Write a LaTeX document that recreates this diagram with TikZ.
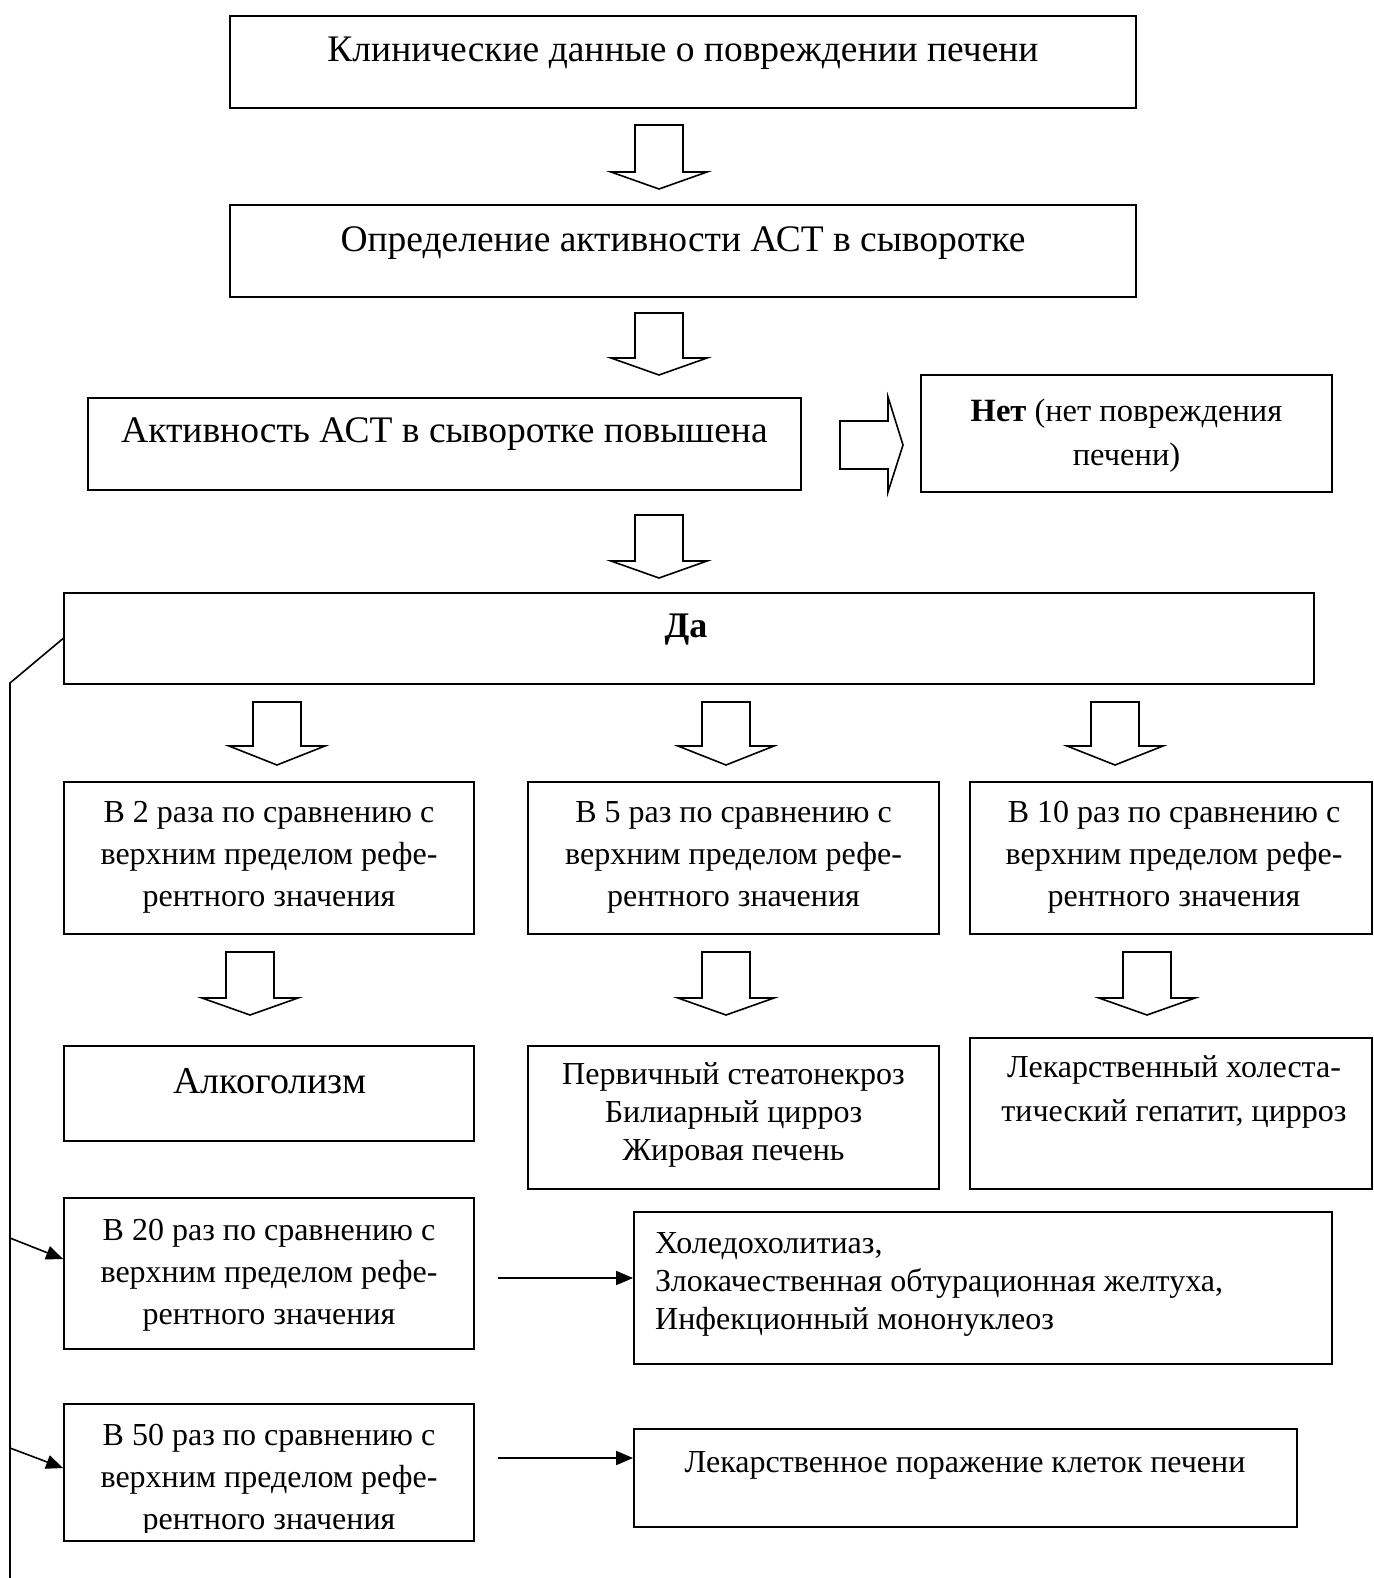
\documentclass[tikz,border=0pt]{standalone}
\usepackage{fontspec}
\setmainfont{Liberation Serif}
\usetikzlibrary{arrows.meta}
\newcommand\fz[2]{\fontsize{#1}{#2}\selectfont}
\tikzset{
  box/.style={draw, line width=1.8pt, rectangle, inner sep=0pt},
  txt/.style={inner sep=0pt, align=center},
  blk/.style={draw, line width=1.6pt, fill=white, line join=miter},
  thin/.style={line width=1.6pt, -{Triangle[length=17pt,width=14pt]}},
}
\newcommand\darrow[4]{% x, top, headrow, tip
  \draw[blk] (#1-24,#2) -- (#1+24,#2) -- (#1+24,#3) -- (#1+48,#3) -- (#1,#4) -- (#1-48,#3) -- (#1-24,#3) -- cycle;}
\begin{document}
\begin{tikzpicture}[x=1pt,y=-1pt]
\useasboundingbox (0,0) rectangle (1373,1578);
% boxes
\node[box, minimum width=906pt, minimum height=92pt] (b1) at (683,62) {};
\node[txt, font=\fz{37.5}{44}] (t1) at (683,53) {Клинические данные о повреждении печени};
\node[box, minimum width=906pt, minimum height=92pt] (b2) at (683,251) {};
\node[txt, font=\fz{37.5}{44}] (t2) at (683,243) {Определение активности АСТ в сыворотке};
\node[box, minimum width=713pt, minimum height=92pt] (b3) at (444.5,444) {};
\node[txt, font=\fz{37.5}{44}] (t3) at (444.5,434) {Активность АСТ в сыворотке повышена};
\node[box, minimum width=411pt, minimum height=117pt] (net) at (1126.5,433.5) {};
\node[txt, font=\fz{32.5}{44}] (tn) at (1126.5,436) {\textbf{Нет} (нет повреждения\\печени)};
\node[box, minimum width=1250pt, minimum height=91pt] (da) at (689,638.5) {};
\node[txt, font=\fz{36}{40}\bfseries] (td) at (686,630) {Да};
% row 1
\node[box, minimum width=410pt, minimum height=152pt] (r1) at (269,858) {};
\node[txt, font=\fz{32}{42}] (tr1) at (269,857) {В 2 раза по сравнению с\\верхним пределом рефе-\\рентного значения};
\node[box, minimum width=411pt, minimum height=152pt] (r2) at (733.5,858) {};
\node[txt, font=\fz{32}{42}] (tr2) at (733.5,857) {В 5 раз по сравнению с\\верхним пределом рефе-\\рентного значения};
\node[box, minimum width=402pt, minimum height=152pt] (r3) at (1171,858) {};
\node[txt, font=\fz{32}{42}] (tr3) at (1174,857) {В 10 раз по сравнению с\\верхним пределом рефе-\\рентного значения};
% row 2
\node[box, minimum width=410pt, minimum height=95pt] (a1) at (269,1093.5) {};
\node[txt, font=\fz{38}{44}] (ta1) at (270,1081) {Алкоголизм};
\node[box, minimum width=411pt, minimum height=143pt] (a2) at (733.5,1117.5) {};
\node[txt, font=\fz{32}{38}] (ta2) at (733.5,1115) {Первичный стеатонекроз\\Билиарный цирроз\\Жировая печень};
\node[box, minimum width=402pt, minimum height=151pt] (a3) at (1171,1113.5) {};
\node[txt, font=\fz{32}{44}] (ta3) at (1174,1092) {Лекарственный холеста-\\тический гепатит, цирроз};
% row 3
\node[box, minimum width=410pt, minimum height=151pt] (b20) at (269,1273.5) {};
\node[txt, font=\fz{32}{42}] (tb20) at (269,1275) {В 20 раз по сравнению с\\верхним пределом рефе-\\рентного значения};
\node[box, minimum width=698pt, minimum height=152pt] (hol) at (983,1288) {};
\node[txt, font=\fz{32}{38}, align=left, anchor=west] (thol) at (655,1284) {Холедохолитиаз,\\Злокачественная обтурационная желтуха,\\Инфекционный мононуклеоз};
% row 4
\begin{scope}
\clip (0,0) rectangle (1373,1532);
\node[txt, font=\fz{32}{42}] (tb50) at (269,1480) {В 50 раз по сравнению с\\верхним пределом рефе-\\рентного значения};
\end{scope}
\node[box, minimum width=410pt, minimum height=137pt] (b50) at (269,1472.5) {};
\node[box, minimum width=663pt, minimum height=98pt] (lek) at (965.5,1478) {};
\node[txt, font=\fz{32}{40}] (tlek) at (965,1465) {Лекарственное поражение клеток печени};
% block arrows
\darrow{659}{125}{172}{189}
\darrow{659}{313}{358}{375}
\darrow{659}{515}{561}{578}
\draw[blk] (840,421) -- (888,421) -- (888,397) -- (903,445) -- (888,492) -- (888,469) -- (840,469) -- cycle;
\darrow{277}{702}{746}{765}
\darrow{726}{702}{746}{765}
\darrow{1115}{702}{746}{765}
\darrow{250}{952}{998}{1015}
\darrow{726}{952}{998}{1015}
\darrow{1147}{952}{998}{1015}
% thin connectors
\coordinate (lt) at (10,683);
\coordinate (lb) at (10,1578);
\coordinate (j1) at (10,1238);
\coordinate (j2) at (10,1448);
\draw[line width=1.6pt] (da.west) -- (lt) -- (lb);
\draw[thin] (j1) -- ([yshift=14.5pt]b20.west);
\draw[thin] (j2) -- ([yshift=4.5pt]b50.west);
\coordinate (h1) at (498,1278);
\coordinate (h2) at (498,1458);
\draw[thin] (h1) -- ([yshift=10pt]hol.west);
\draw[thin] (h2) -- ([yshift=20pt]lek.west);
\end{tikzpicture}
\end{document}
